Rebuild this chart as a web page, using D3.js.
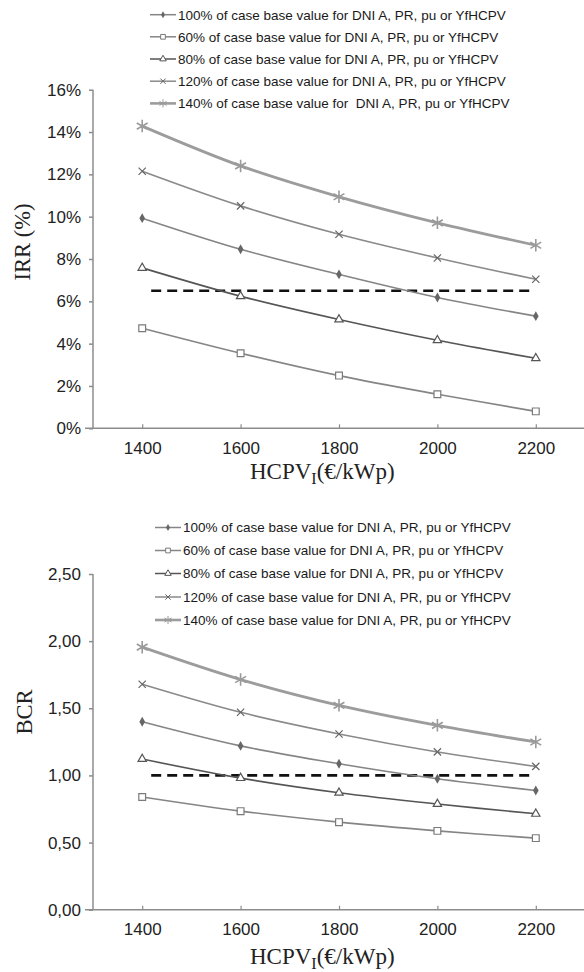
<!DOCTYPE html>
<html><head><meta charset="utf-8">
<script src="https://cdn.jsdelivr.net/npm/d3@7/dist/d3.min.js"></script>
<style>body{margin:0;background:#fff}svg{display:block}</style>
</head><body>
<svg id="c" width="584" height="972"></svg>
<script>
const costs = [1400, 1600, 1800, 2000, 2200];
const xTicks = [1400, 1600, 1800, 2000, 2200];
const seriesKeys = ["100", "60", "80", "120", "140"];
const legendTop = [
  "100% of case base value for DNI A, PR, pu or YfHCPV",
  "60% of case base value for DNI A, PR, pu or YfHCPV",
  "80% of case base value for DNI A, PR, pu or YfHCPV",
  "120% of case base value for DNI A, PR, pu or YfHCPV",
  "140% of case base value for  DNI A, PR, pu or YfHCPV"
];
const legendBottom = [
  "100% of case base value for DNI A, PR, pu or YfHCPV",
  "60% of case base value for DNI A, PR, pu or YfHCPV",
  "80% of case base value for DNI A, PR, pu or YfHCPV",
  "120% of case base value for DNI A, PR, pu or YfHCPV",
  "140% of case base value for DNI A, PR, pu or YfHCPV"
];
// IRR (%)
const irr100 = [9.93, 8.46, 7.27, 6.18, 5.30];
const irr60  = [4.73, 3.55, 2.49, 1.61, 0.80];
const irr80  = [7.58, 6.24, 5.14, 4.16, 3.31];
const irr120 = [12.15, 10.51, 9.17, 8.05, 7.04];
const irr140 = [14.28, 12.40, 10.94, 9.71, 8.65];
const irrThreshold = 6.5;
const irrTicks = [0, 2, 4, 6, 8, 10, 12, 14, 16];
// BCR
const bcr100 = [1.40, 1.22, 1.087, 0.975, 0.888];
const bcr60  = [0.839, 0.734, 0.652, 0.587, 0.533];
const bcr80  = [1.122, 0.98, 0.871, 0.787, 0.714];
const bcr120 = [1.679, 1.47, 1.309, 1.175, 1.067];
const bcr140 = [1.955, 1.714, 1.522, 1.373, 1.249];
const bcrThreshold = 1.0;
const bcrTicks = [0, 0.5, 1.0, 1.5, 2.0, 2.5];

const svg = d3.select("#c");
const styles = {
  "100": {stroke:"#858585", w:1.6, sym:d3.symbolDiamond, size:28, fill:"#666", mstroke:"none", lsize:14},
  "60":  {stroke:"#858585", w:1.6, sym:d3.symbolSquare, size:46, fill:"#fff", mstroke:"#7a7a7a", lsize:22},
  "80":  {stroke:"#555", w:1.6, sym:d3.symbolTriangle, size:30, fill:"#fff", mstroke:"#555", lsize:18},
  "120": {stroke:"#8a8a8a", w:1.6, sym:d3.symbolTimes, size:36, fill:"none", mstroke:"#666", lsize:20},
  "140": {stroke:"#9c9c9c", w:2.8, sym:d3.symbolAsterisk, size:110, fill:"none", mstroke:"#9a9a9a", lsize:46}
};

function chart(cfg) {
  const x = d3.scaleLinear().domain([1300, 2300]).range([93, 585]);
  const y = d3.scaleLinear().domain(cfg.domain).range([cfg.y0, cfg.y1]);
  const g = svg.append("g");
  // y axis
  const ya = g.append("g").attr("transform", `translate(${x(1300)},0)`)
    .call(d3.axisLeft(y).tickValues(cfg.ticks).tickSize(4).tickPadding(8).tickFormat(cfg.fmt));
  ya.selectAll("path,line").attr("stroke", "#8c8c8c").attr("stroke-width", 1.5);
  ya.select(".domain").attr("d", `M0,${cfg.y0}V${cfg.y1}`);
  ya.selectAll("text").attr("font-family", "Liberation Sans, Arial, sans-serif").attr("font-size", 17).attr("fill", "#222");
  // x axis
  const xa = g.append("g").attr("transform", `translate(0,${cfg.y0})`)
    .call(d3.axisBottom(x).tickValues(xTicks).tickSize(0).tickPadding(10).tickFormat(d3.format("d")));
  xa.select(".domain").attr("stroke", "#8c8c8c").attr("stroke-width", 1.5).attr("d", `M${x(1300)-8},0H584`);
  xa.selectAll(".tick").append("line").attr("y1", 0).attr("y2", -4).attr("stroke", "#8c8c8c").attr("stroke-width", 1.2);
  xa.selectAll("text").attr("font-family", "Liberation Sans, Arial, sans-serif").attr("font-size", 17).attr("fill", "#222").attr("dy", "0.9em");
  // threshold dashed line
  g.append("line")
    .attr("x1", x(costs[0]) + 9).attr("x2", x(costs[costs.length - 1]) - 3)
    .attr("y1", y(cfg.threshold)).attr("y2", y(cfg.threshold))
    .attr("stroke", "#111").attr("stroke-width", 2.6).attr("stroke-dasharray", "10,6");
  // series
  const line = d3.line().x((d, i) => x(costs[i])).y(d => y(d)).curve(d3.curveCatmullRom.alpha(0.5));
  const order = ["60", "80", "100", "120", "140"];
  order.forEach(k => {
    const st = styles[k]; const vals = cfg.data[k];
    g.append("path").datum(vals).attr("d", line).attr("fill", "none")
      .attr("stroke", st.stroke).attr("stroke-width", st.w);
    g.selectAll(null).data(vals).enter().append("path")
      .attr("transform", (d, i) => `translate(${x(costs[i])},${y(d)})`)
      .attr("d", d3.symbol().type(st.sym).size(st.size))
      .attr("fill", st.fill).attr("stroke", st.mstroke).attr("stroke-width", k === "140" ? 1.6 : 1.2);
  });
  // legend
  cfg.legend.forEach((t, i) => {
    const k = seriesKeys[i]; const st = styles[k];
    const yy = cfg.legY[i];
    g.append("line").attr("x1", cfg.legX).attr("x2", cfg.legX + 26).attr("y1", yy).attr("y2", yy)
      .attr("stroke", st.stroke).attr("stroke-width", k === "140" ? 2.6 : 1.5);
    g.append("path").attr("transform", `translate(${cfg.legX + 13},${yy})`)
      .attr("d", d3.symbol().type(st.sym).size(st.lsize))
      .attr("fill", st.fill).attr("stroke", st.mstroke).attr("stroke-width", 1);
    g.append("text").attr("x", cfg.legX + 28).attr("y", yy + 4.8).text(t)
      .attr("font-family", "Liberation Sans, Arial, sans-serif").attr("font-size", 13.5).attr("fill", "#1a1a1a")
      .style("white-space", "pre");
  });
  // axis titles
  g.append("text").attr("transform", `translate(${cfg.ytX},${cfg.ytY}) rotate(-90)`)
    .attr("text-anchor", "middle").attr("font-family", "Liberation Serif, Times New Roman, serif")
    .attr("font-size", 22.5).attr("fill", "#222").text(cfg.ytitle);
  const xt = g.append("text").attr("x", 250).attr("y", cfg.xtY)
    .attr("font-family", "Liberation Serif, Times New Roman, serif").attr("font-size", 23).attr("fill", "#222");
  xt.append("tspan").text("HCPV");
  xt.append("tspan").attr("font-size", 16).attr("dy", 5).text("I");
  xt.append("tspan").attr("dy", -5).text("(€/kWp)");
}

chart({
  domain: [0, 16], y0: 428.3, y1: 89.7, ticks: irrTicks, fmt: d => d + "%",
  threshold: irrThreshold,
  data: {"100": irr100, "60": irr60, "80": irr80, "120": irr120, "140": irr140},
  legend: legendTop, legX: 150, legY: [14.7, 36.8, 59, 81.2, 103.4],
  ytitle: "IRR (%)", ytX: 30, ytY: 242, xtY: 479
});
chart({
  domain: [0, 2.5], y0: 909.7, y1: 574, ticks: bcrTicks, fmt: d => d3.format(".2f")(d).replace(".", ","),
  threshold: bcrThreshold,
  data: {"100": bcr100, "60": bcr60, "80": bcr80, "120": bcr120, "140": bcr140},
  legend: legendBottom, legX: 155, legY: [527.5, 550.5, 573.5, 597, 620],
  ytitle: "BCR", ytX: 32, ytY: 712, xtY: 964
});
</script>
</body></html>
